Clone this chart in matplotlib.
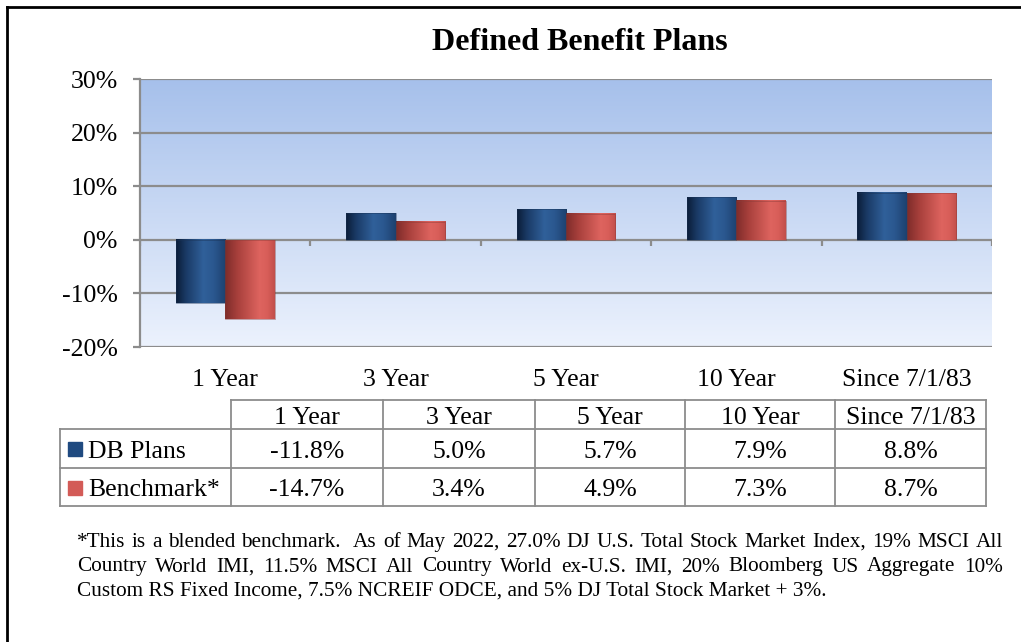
import numpy as np
import matplotlib.pyplot as plt
from matplotlib.colors import LinearSegmentedColormap
from matplotlib.lines import Line2D
from matplotlib.patches import Rectangle

categories = ['1 Year', '3 Year', '5 Year', '10 Year', 'Since 7/1/83']
db_plans = [-11.8, 5.0, 5.7, 7.9, 8.8]
benchmark = [-14.7, 3.4, 4.9, 7.3, 8.7]
series_names = ['DB Plans', 'Benchmark*']
yticks = [-20, -10, 0, 10, 20, 30]
footnote = [
    '*This is a blended benchmark.  As of May 2022, 27.0% DJ U.S. Total Stock Market Index, 19% MSCI All',
    'Country World IMI, 11.5% MSCI All Country World ex-U.S. IMI, 20% Bloomberg US Aggregate 10%',
    'Custom RS Fixed Income, 7.5% NCREIF ODCE, and 5% DJ Total Stock Market + 3%.',
]

W, H = 1021, 642
plt.rcParams['font.family'] = ['Liberation Serif', 'DejaVu Serif']
grey = '#8c8c8c'


def fx(px):
    return px / W


def fy(py):
    return 1 - py / H


fig = plt.figure(figsize=(W / 100, H / 100), dpi=100)
ax = fig.add_axes([fx(140), fy(347), fx(992) - fx(140), (347 - 79) / H])

x = np.arange(len(categories))
bw = 0.29
ax.set_xlim(-0.5, len(categories) - 0.5)
ax.set_ylim(-20, 30)

# background gradient
bg = LinearSegmentedColormap.from_list('bg', ['#ecf2fd', '#a6c0eb'])
grad = np.linspace(0, 1, 256).reshape(-1, 1)
ax.imshow(grad, cmap=bg, aspect='auto', origin='lower',
          extent=(-0.5, len(categories) - 0.5, -20, 30), zorder=0)

for v in yticks:
    ax.axhline(v, color=grey, lw=1.6, zorder=1)

blue_cm = LinearSegmentedColormap.from_list(
    'b', [(0, '#0b1d38'), (0.2, '#1a3a66'), (0.55, '#30609a'), (0.75, '#2b5890'), (1, '#1d416f')])
red_cm = LinearSegmentedColormap.from_list(
    'r', [(0, '#7e2c2a'), (0.25, '#a8403c'), (0.7, '#de645f'), (0.85, '#d85e59'), (1, '#c14f4b')])
hgrad = np.linspace(0, 1, 128).reshape(1, -1)

bars1 = ax.bar(x - bw / 2, db_plans, bw, color='none', zorder=2)
bars2 = ax.bar(x + bw / 2, benchmark, bw, color='none', zorder=2)
for bars, cm, ec in [(bars1, blue_cm, '#1a3356'), (bars2, red_cm, '#8a3b38')]:
    for b in bars:
        x0, y0 = b.get_x(), b.get_y()
        x1, y1 = x0 + b.get_width(), y0 + b.get_height()
        ax.imshow(hgrad, cmap=cm, aspect='auto',
                  extent=(x0, x1, min(y0, y1), max(y0, y1)), zorder=3)
        ax.add_patch(Rectangle((x0, y0), b.get_width(), b.get_height(),
                               fill=False, ec=ec, lw=0.6, alpha=0.5, zorder=4))

# small ticks below the zero line at category boundaries
bounds = np.arange(len(categories) + 1) - 0.5
ax.vlines(bounds, -1.2, 0, color=grey, lw=1.6, zorder=1)

for s in ['top', 'right', 'bottom']:
    ax.spines[s].set_visible(False)
ax.spines['left'].set_color(grey)
ax.spines['left'].set_linewidth(1.6)

ax.set_yticks(yticks)
ax.set_yticklabels([f'{v}%' for v in yticks], fontsize=18.5)
ax.tick_params(axis='y', length=5, width=1.6, color=grey, pad=11)
ax.set_xticks(x)
ax.set_xticklabels(categories, fontsize=18.5)
ax.tick_params(axis='x', length=0, pad=16)

fig.text(fx(580), fy(42), 'Defined Benefit Plans', ha='center', va='center',
         fontsize=23, fontweight='bold')

# table
cols = [60, 231, 383, 535, 685, 835, 986]
rows = [400, 429, 468, 506]
lkw = dict(color=grey, lw=1.3, transform=fig.transFigure)
fig.add_artist(Line2D([fx(cols[1]), fx(cols[-1])], [fy(rows[0])] * 2, **lkw))
for r in rows[1:]:
    fig.add_artist(Line2D([fx(cols[0]), fx(cols[-1])], [fy(r)] * 2, **lkw))
for i, c in enumerate(cols):
    top = rows[1] if i == 0 else rows[0]
    fig.add_artist(Line2D([fx(c)] * 2, [fy(top), fy(rows[-1])], **lkw))

tfs = 18.5
for i, cat in enumerate(categories):
    cx = (cols[i + 1] + cols[i + 2]) / 2
    fig.text(fx(cx), fy(415), cat, ha='center', va='center_baseline', fontsize=tfs)
    fig.text(fx(cx), fy(449), f'{db_plans[i]:.1f}%', ha='center', va='center_baseline', fontsize=tfs)
    fig.text(fx(cx), fy(488), f'{benchmark[i]:.1f}%', ha='center', va='center_baseline', fontsize=tfs)

for (ry, name, col) in [(449, series_names[0], '#1f4a80'), (488, series_names[1], '#d35b57')]:
    fig.add_artist(Rectangle((fx(68), fy(ry + 7)), fx(14), 14 / H, color=col,
                             transform=fig.transFigure))
    fig.text(fx(88), fy(ry), name, ha='left', va='center_baseline', fontsize=tfs)

# footnote, first two lines justified
ffs = 15.3
renderer = fig.canvas.get_renderer()
left, right = 77, 1003
for li, line in enumerate(footnote):
    ypos = fy(547 + li * 24.5)
    if li == len(footnote) - 1:
        fig.text(fx(left), ypos, line, ha='left', va='baseline', fontsize=ffs)
        continue
    words = line.split(' ')
    arts = [fig.text(0, ypos, w, ha='left', va='baseline', fontsize=ffs) for w in words]
    widths = [a.get_window_extent(renderer).width if w else 0 for a, w in zip(arts, words)]
    gap = (right - left - sum(widths)) / (len(words) - 1)
    pos = left
    for a, wd in zip(arts, widths):
        a.set_x(fx(pos))
        pos += wd + gap

# frame lines at left and top
fig.add_artist(Line2D([fx(7), fx(7)], [fy(7), 0], color='black', lw=2, transform=fig.transFigure))
fig.add_artist(Line2D([fx(7), 1], [fy(7), fy(7)], color='black', lw=2, transform=fig.transFigure))

fig.savefig('out.png', dpi=100)
